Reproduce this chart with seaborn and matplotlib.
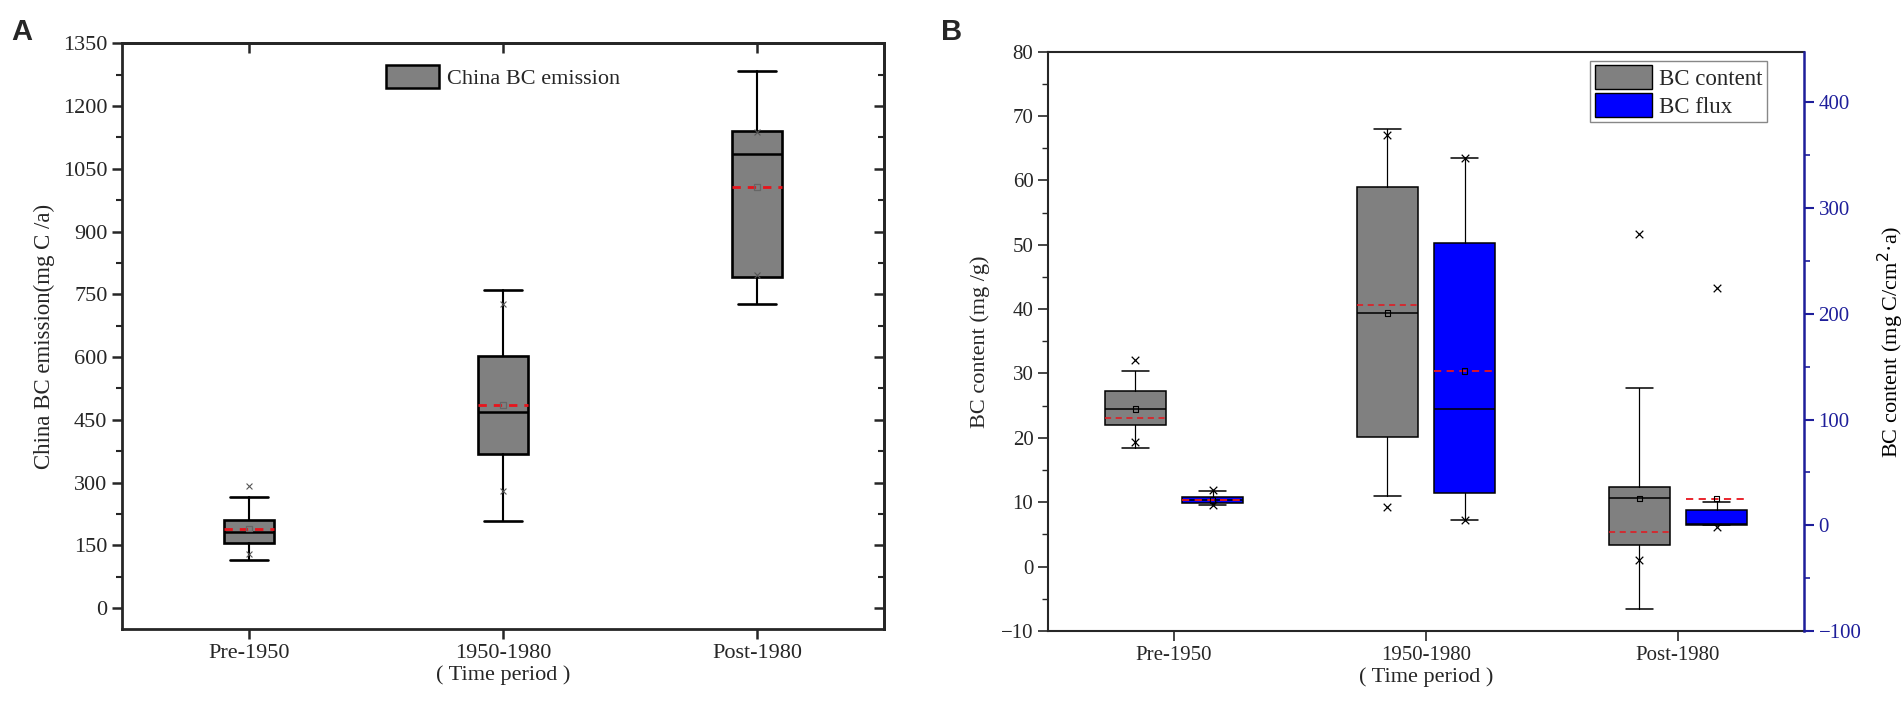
import numpy as np
import matplotlib
matplotlib.use("Agg")
import matplotlib.pyplot as plt
from matplotlib.patches import Patch
from matplotlib.ticker import MultipleLocator
import seaborn as sns

sns.set_style("ticks")
plt.rcParams['font.family'] = ['Liberation Serif', 'DejaVu Serif']

periods = ["Pre-1950", "1950-1980", "Post-1980"]

# panel A: China BC emission (mg C/a)
emis_whislo = [116, 209, 727]
emis_q1 = [155.5, 369.5, 792]
emis_med = [180.8, 468, 1085]
emis_q3 = [209.5, 602, 1140]
emis_whishi = [266.6, 761, 1284]
emis_mean = [190, 485, 1007]
emis_low_x = [128.7, 280.4, 795]
emis_high_x = [292.7, 728, 1137]

# panel B: BC content (mg/g), left axis
cont_whislo = [18.5, 11.0, -6.65]
cont_q1 = [22.0, 20.1, 3.3]
cont_med = [24.5, 39.4, 10.6]
cont_q3 = [27.3, 58.9, 12.3]
cont_whishi = [30.4, 67.9, 27.7]
cont_mean = [24.5, 39.4, 10.6]
cont_red = [23.1, 40.7, 5.4]
cont_low_x = [19.3, 9.25, 1.0]
cont_high_x = [32.1, 67.1, 51.6]

# panel B: BC flux (mg C/cm2 a), right axis
flux_whislo = [19.2, 4.7, 0.3]
flux_q1 = [21.1, 30.2, 0.0]
flux_med = [23.9, 109.6, 0.8]
flux_q3 = [26.8, 266.9, 14.5]
flux_whishi = [32.4, 347.6, 21.7]
flux_mean = [23.9, 145.8, 25.5]
flux_red = [23.9, 145.8, 24.6]
flux_low_x = [19.2, 4.7, -1.3]
flux_high_x = [33.4, 347.6, 224.4]


def make_stats(lo, q1, med, q3, hi):
    return [dict(whislo=a, q1=b, med=c, q3=d, whishi=e, fliers=[])
            for a, b, c, d, e in zip(lo, q1, med, q3, hi)]


def draw_boxes(ax, stats, pos, width, face, lw, mlw, capw):
    ax.bxp(stats, positions=pos, widths=width, capwidths=capw, patch_artist=True,
           showfliers=False,
           boxprops=dict(facecolor=face, edgecolor="black", linewidth=lw),
           medianprops=dict(color="black", linewidth=mlw),
           whiskerprops=dict(color="black", linewidth=lw * 0.8),
           capprops=dict(color="black", linewidth=lw))


navy = "#1e1e9a"
red = "#e8141c"

fig = plt.figure(figsize=(19.04, 7.04), dpi=100)
axA = fig.add_axes([0.0641, 0.1065, 0.4002, 0.832])
axB = fig.add_axes([0.5504, 0.1037, 0.3971, 0.823])

# ---------- panel A ----------
posA = np.arange(len(periods))
wA = 0.2
draw_boxes(axA, make_stats(emis_whislo, emis_q1, emis_med, emis_q3, emis_whishi),
           posA, wA, "#808080", 1.9, 1.8, 0.15)
axA.hlines(emis_mean, posA - wA / 2, posA + wA / 2, colors=red, linestyles=(0, (3, 2.5)),
           linewidth=2.0, zorder=4)
axA.scatter(posA, emis_mean, marker="s", s=16, facecolors="none", edgecolors="#666666",
            linewidths=0.9, zorder=5)
sns.scatterplot(x=np.concatenate([posA, posA]), y=emis_low_x + emis_high_x, marker="x",
                s=18, color="#555555", linewidth=0.8, ax=axA, zorder=5)

axA.set_xlim(-0.5, 2.5)
axA.set_ylim(-50, 1350)
axA.set_xticks(posA)
axA.set_xticklabels(periods)
axA.set_xlabel("( Time period )", fontsize=16, labelpad=2)
axA.set_ylabel("China BC emission(mg C /a)", fontsize=16.5, labelpad=6)
axA.yaxis.set_major_locator(MultipleLocator(150))
axA.yaxis.set_minor_locator(MultipleLocator(75))
axA.tick_params(axis="both", which="major", labelsize=16, length=7, width=1.8,
                direction="out")
axA.tick_params(axis="y", which="minor", length=4, width=1.5, direction="out")

# inward ticks on the top and right frame
topA = axA.secondary_xaxis("top")
topA.set_xticks(posA, labels=[])
topA.tick_params(direction="in", length=7, width=1.8)
rightA = axA.secondary_yaxis("right")
rightA.yaxis.set_major_locator(MultipleLocator(150))
rightA.yaxis.set_minor_locator(MultipleLocator(75))
rightA.tick_params(which="major", direction="in", length=7, width=1.8, labelright=False)
rightA.tick_params(which="minor", direction="in", length=4, width=1.5)
for ax in [axA, topA, rightA]:
    for s in ax.spines.values():
        s.set_linewidth(2)

axA.legend(handles=[Patch(facecolor="#808080", edgecolor="black", linewidth=1.8,
                          label="China BC emission")],
           loc="upper center", bbox_to_anchor=(0.5, 0.985), frameon=False, fontsize=16,
           handlelength=2.4, handleheight=1.2, handletextpad=0.35, borderaxespad=0.2)

fig.text(0.006, 0.975, "A", fontsize=21, fontweight="bold", family="Liberation Sans",
         va="top", ha="left")

# ---------- panel B ----------
posB = np.arange(len(periods))
off = 0.153
wB = 0.245
ax2 = axB.twinx()
draw_boxes(axB, make_stats(cont_whislo, cont_q1, cont_med, cont_q3, cont_whishi),
           posB - off, wB, "#808080", 1.1, 1.1, 0.11)
axB.hlines(cont_red, posB - off - wB / 2, posB - off + wB / 2, colors=red,
           linestyles=(0, (4, 3)), linewidth=1.1, zorder=4)
axB.scatter(posB - off, cont_mean, marker="s", s=16, facecolors="none", edgecolors="black",
            linewidths=0.8, zorder=5)
sns.scatterplot(x=np.concatenate([posB - off, posB - off]), y=cont_low_x + cont_high_x,
                marker="x", s=30, color="black", linewidth=0.9, ax=axB, zorder=5)

draw_boxes(ax2, make_stats(flux_whislo, flux_q1, flux_med, flux_q3, flux_whishi),
           posB + off, wB, "#0000ff", 1.1, 1.1, 0.11)
ax2.hlines(flux_red, posB + off - wB / 2, posB + off + wB / 2, colors=red,
           linestyles=(0, (4, 3)), linewidth=1.3, zorder=4)
ax2.scatter(posB + off, flux_mean, marker="s", s=16, facecolors="none", edgecolors="black",
            linewidths=0.8, zorder=5)
sns.scatterplot(x=np.concatenate([posB + off, posB + off]), y=flux_low_x + flux_high_x,
                marker="x", s=30, color="black", linewidth=0.9, ax=ax2, zorder=5)

axB.set_xlim(-0.5, 2.5)
axB.set_ylim(-10, 80)
ax2.set_ylim(-100, 448)
axB.set_xticks(posB)
axB.set_xticklabels(periods)
axB.set_xlabel("( Time period )", fontsize=16, labelpad=2)
axB.set_ylabel("BC content (mg /g)", fontsize=16, labelpad=8)
ax2.set_ylabel("BC content (mg C/cm$^2$·a)", fontsize=16, labelpad=10)
axB.yaxis.set_major_locator(MultipleLocator(10))
axB.yaxis.set_minor_locator(MultipleLocator(5))
ax2.yaxis.set_major_locator(MultipleLocator(100))
ax2.yaxis.set_minor_locator(MultipleLocator(50))
axB.tick_params(axis="both", which="major", labelsize=15, length=7, width=1.2,
                direction="out")
axB.tick_params(axis="y", which="minor", length=4, width=1.0, direction="out")
ax2.tick_params(axis="y", which="major", labelsize=15, length=7, width=1.5,
                colors=navy, direction="out")
ax2.tick_params(axis="y", which="minor", length=4, width=1.2, colors=navy,
                direction="out")
ax2.yaxis.label.set_color("black")
for s in axB.spines.values():
    s.set_linewidth(1.5)
axB.spines["right"].set_visible(False)
for k, s in ax2.spines.items():
    s.set_visible(k == "right")
ax2.spines["right"].set_color(navy)
ax2.spines["right"].set_linewidth(1.8)

leg = ax2.legend(handles=[Patch(facecolor="#808080", edgecolor="black", label="BC content"),
                          Patch(facecolor="#0000ff", edgecolor="black", label="BC flux")],
                 loc="upper right", bbox_to_anchor=(0.951, 0.9845), fontsize=16.5,
                 handlelength=2.5, handleheight=1.2, handletextpad=0.3,
                 labelspacing=0.15, borderpad=0.2, borderaxespad=0, fancybox=False,
                 framealpha=1)
leg.get_frame().set_edgecolor("#888888")
leg.get_frame().set_linewidth(1.0)

fig.text(0.494, 0.975, "B", fontsize=21, fontweight="bold", family="Liberation Sans",
         va="top", ha="left")

fig.savefig("out.png", dpi=100)
